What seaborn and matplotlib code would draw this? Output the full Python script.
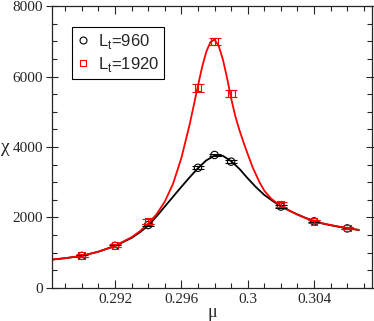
import pandas as pd
import matplotlib
matplotlib.use("Agg")
import matplotlib.pyplot as plt
import seaborn as sns
from matplotlib.ticker import MultipleLocator, FixedLocator
from matplotlib.lines import Line2D

# measured points
mu = [0.290, 0.292, 0.294, 0.297, 0.298, 0.299, 0.302, 0.304, 0.306]
chi_960 = [910, 1195, 1785, 3410, 3775, 3585, 2310, 1890, 1690]
err_960 = [30, 30, 40, 40, 40, 40, 40, 30, 30]
chi_1920 = [915, 1200, 1880, 5680, 6990, 5520, 2360, 1885, 1700]
err_1920 = [35, 35, 70, 110, 100, 100, 70, 40, 40]

# fitted curves
fit_x_960 = [0.2880, 0.2890, 0.2900, 0.2910, 0.2920, 0.2930, 0.2935, 0.2940,
             0.2945, 0.2950, 0.2955, 0.2960, 0.2965, 0.2970, 0.2975, 0.2980,
             0.2985, 0.2990, 0.2995, 0.3000, 0.3005, 0.3010, 0.3015, 0.3020,
             0.3025, 0.3030, 0.3035, 0.3040, 0.3045, 0.3050, 0.3055, 0.3060,
             0.3067]
fit_y_960 = [794, 845, 910, 1030, 1190, 1420, 1580, 1770,
             2030, 2310, 2590, 2870, 3140, 3400, 3620, 3760,
             3750, 3600, 3380, 3110, 2860, 2640, 2470, 2310,
             2195, 2085, 1985, 1900, 1830, 1780, 1735, 1695,
             1645]
fit_x_1920 = [0.2880, 0.2890, 0.2900, 0.2910, 0.2920, 0.2930, 0.2935, 0.2940,
              0.2945, 0.2950, 0.2955, 0.2960, 0.2965, 0.2970, 0.29725, 0.2975,
              0.29775, 0.2980, 0.29825, 0.2985, 0.29875, 0.2990, 0.29925,
              0.2995, 0.2998, 0.3000, 0.3003, 0.3007, 0.3010, 0.3014, 0.3017,
              0.3020, 0.3025, 0.3030, 0.3035, 0.3040, 0.3045, 0.3050, 0.3055,
              0.3060, 0.3067]
fit_y_1920 = [794, 845, 910, 1030, 1195, 1440, 1610, 1830,
              2090, 2450, 2960, 3690, 4640, 5740, 6270, 6700,
              6980, 7050, 6870, 6490, 5970, 5380, 4880,
              4480, 4060, 3800, 3420, 3010, 2760, 2540, 2430,
              2335, 2200, 2080, 1980, 1900, 1835, 1785, 1740,
              1700, 1648]

sns.set_style("ticks")
fig = plt.figure(figsize=(3.74, 3.21), dpi=100)
ax = fig.add_axes([0.139, 0.103, 0.856, 0.878])

sns.lineplot(x=fit_x_960, y=fit_y_960, color="black", lw=1.3, ax=ax)
sns.lineplot(x=fit_x_1920, y=fit_y_1920, color="red", lw=1.3, ax=ax)

ax.errorbar(mu, chi_960, yerr=err_960, fmt="none", ecolor="black",
            elinewidth=0.8, capsize=4, capthick=0.8)
ax.errorbar(mu, chi_1920, yerr=err_1920, fmt="none", ecolor="red",
            elinewidth=0.8, capsize=4, capthick=0.8)

n_before = len(ax.collections)
sns.scatterplot(x=mu, y=chi_960, marker="o", s=28, ax=ax)
sns.scatterplot(x=mu, y=chi_1920, marker="s", s=24, ax=ax)
for coll, col in zip(ax.collections[n_before:], ["black", "red"]):
    coll.set_facecolors("none")
    coll.set_edgecolors(col)
    coll.set_linewidths(0.8)

ax.set_xlim(0.2882, 0.3075)
ax.set_ylim(0, 8000)
ax.xaxis.set_major_locator(FixedLocator([0.292, 0.296, 0.300, 0.304]))
ax.set_xticklabels(["0.292", "0.296", "0.3", "0.304"])
ax.xaxis.set_minor_locator(MultipleLocator(0.001))
ax.yaxis.set_major_locator(MultipleLocator(2000))
ax.yaxis.set_minor_locator(MultipleLocator(500))
ax.tick_params(which="both", direction="in", top=True, right=True, width=0.8,
               labelsize=11, labelfontfamily="Liberation Serif")
ax.tick_params(which="major", length=6)
ax.tick_params(which="minor", length=3.5)
ax.tick_params(axis="y", which="major", direction="inout", length=9, pad=2)
for s in ax.spines.values():
    s.set_linewidth(0.9)

ax.set_xlabel("μ", fontsize=13, family="Liberation Serif", labelpad=-1)
ax.set_ylabel("χ", fontsize=14, family="Liberation Serif", rotation=0,
              va="center", ha="center")
ax.yaxis.set_label_coords(-0.145, 0.5)

handles = [Line2D([], [], ls="none", marker="o", mfc="none", mec="black", ms=5, mew=0.8),
           Line2D([], [], ls="none", marker="s", mfc="none", mec="red", ms=4.5, mew=0.8)]
leg = ax.legend(handles, [r"L$_\mathregular{t}$=960", r"L$_\mathregular{t}$=1920"],
                loc="upper left", bbox_to_anchor=(0.0625, 0.925), borderaxespad=0,
                frameon=True, fancybox=False, edgecolor="black", framealpha=1,
                handlelength=0.7, handletextpad=0.55, borderpad=0.3,
                labelspacing=0.2, prop={"family": "Liberation Sans", "size": 12})
leg.get_frame().set_linewidth(0.8)

fig.savefig("out.png", dpi=100)
